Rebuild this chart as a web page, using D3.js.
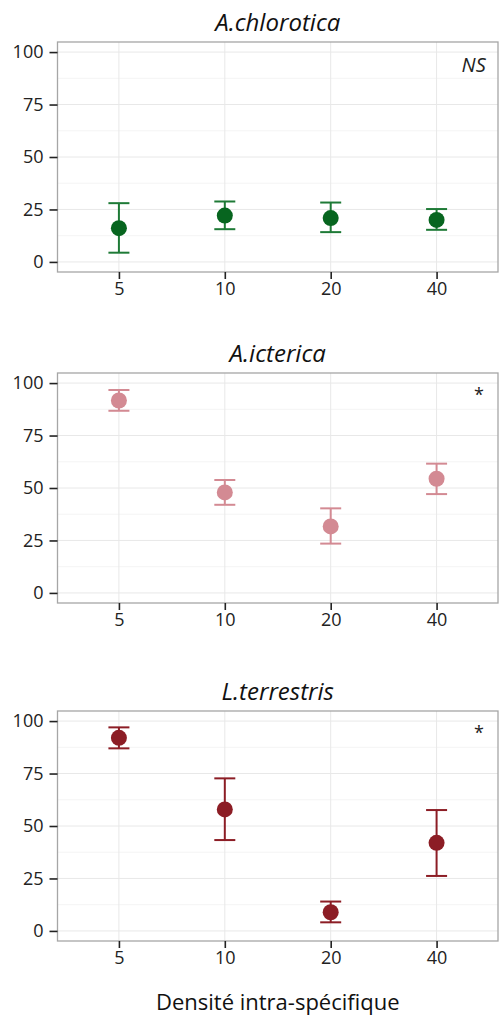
<!DOCTYPE html>
<html>
<head>
<meta charset="utf-8">
<script src="https://cdn.jsdelivr.net/npm/d3@7"></script>
<style>
  html, body { margin: 0; padding: 0; background: #fff; }
  svg { display: block; font-family: "Open Sans", sans-serif; }
</style>
</head>
<body>
<svg id="chart" width="501" height="1016"></svg>
<script>
// Density levels (x categories)
const densities = ["5", "10", "20", "40"];
const yTicks = [0, 25, 50, 75, 100];

// Species panels
const species = ["A.chlorotica", "A.icterica", "L.terrestris"];
const signif = ["NS", "*", "*"];
const colors = ["#07651f", "#d38a93", "#8c1d25"];
const barColors = ["#1e7a36", "#d38a93", "#8c1d25"];

// Mean and error bounds per density, one array per species
const chloroticaMean = [16.1, 22.1, 20.9, 20.0];
const chloroticaLow  = [4.4, 15.6, 14.2, 15.3];
const chloroticaHigh = [28.0, 28.8, 28.3, 25.2];

const ictericaMean = [91.7, 47.9, 31.7, 54.4];
const ictericaLow  = [86.8, 42.0, 23.5, 47.1];
const ictericaHigh = [96.7, 53.8, 40.3, 61.6];

const terrestrisMean = [92.0, 57.9, 8.9, 42.0];
const terrestrisLow  = [87.0, 43.3, 4.1, 26.2];
const terrestrisHigh = [97.0, 72.7, 14.0, 57.6];

const means = [chloroticaMean, ictericaMean, terrestrisMean];
const lows = [chloroticaLow, ictericaLow, terrestrisLow];
const highs = [chloroticaHigh, ictericaHigh, terrestrisHigh];

const svg = d3.select("#chart");

const left = 57.5, right = 498;
const panelTops = [42, 373, 711];
const panelH = 230;

const x = d3.scalePoint().domain(densities).range([left, right]).padding(0.58);
const step = x.step();

panelTops.forEach((top, i) => {
  const bottom = top + panelH;
  const y = d3.scaleLinear().domain([-4.8, 104.8]).range([bottom, top]);
  const g = svg.append("g");

  // Title
  g.append("text")
    .attr("x", (left + right) / 2)
    .attr("y", top - 11)
    .attr("text-anchor", "middle")
    .attr("font-style", "italic")
    .attr("font-size", 24)
    .attr("fill", "#111")
    .text(species[i]);

  // Minor grid
  const minor = [12.5, 37.5, 62.5, 87.5];
  g.selectAll(".minor").data(minor).join("line")
    .attr("x1", left).attr("x2", right)
    .attr("y1", d => y(d)).attr("y2", d => y(d))
    .attr("stroke", "#f4f4f4").attr("stroke-width", 1);

  // Major grid
  g.selectAll(".hmaj").data(yTicks).join("line")
    .attr("x1", left).attr("x2", right)
    .attr("y1", d => y(d)).attr("y2", d => y(d))
    .attr("stroke", "#e8e8e8").attr("stroke-width", 1);
  g.selectAll(".vmaj").data(densities).join("line")
    .attr("x1", d => x(d)).attr("x2", d => x(d))
    .attr("y1", top).attr("y2", bottom)
    .attr("stroke", "#e8e8e8").attr("stroke-width", 1);

  // Panel border
  g.append("rect")
    .attr("x", left).attr("y", top)
    .attr("width", right - left).attr("height", panelH)
    .attr("fill", "none").attr("stroke", "#a6a6a6").attr("stroke-width", 1.3);

  // Y axis
  const yAxis = g.append("g")
    .attr("transform", `translate(${left},0)`)
    .call(d3.axisLeft(y).tickValues(yTicks).tickSize(8).tickPadding(6));
  yAxis.select(".domain").remove();
  yAxis.selectAll("line").attr("stroke", "#222").attr("stroke-width", 1.6);
  yAxis.selectAll("text").attr("font-size", 18).attr("fill", "#222")
    .attr("font-family", "Open Sans, sans-serif");

  // X axis
  const xAxis = g.append("g")
    .attr("transform", `translate(0,${bottom})`)
    .call(d3.axisBottom(x).tickSize(7).tickPadding(3));
  xAxis.select(".domain").remove();
  xAxis.selectAll("line").attr("stroke", "#222").attr("stroke-width", 1.6);
  xAxis.selectAll("text").attr("font-size", 18).attr("fill", "#222")
    .attr("font-family", "Open Sans, sans-serif");

  const rows = densities.map((d, j) => ({ d, m: means[i][j], lo: lows[i][j], hi: highs[i][j] }));

  // Error bars
  const eb = g.selectAll(".eb").data(rows).join("g");
  eb.append("line")
    .attr("x1", r => x(r.d)).attr("x2", r => x(r.d))
    .attr("y1", r => y(r.lo)).attr("y2", r => y(r.hi))
    .attr("stroke", barColors[i]).attr("stroke-width", 2);
  eb.append("line")
    .attr("x1", r => x(r.d) - 10.5).attr("x2", r => x(r.d) + 10.5)
    .attr("y1", r => y(r.hi)).attr("y2", r => y(r.hi))
    .attr("stroke", barColors[i]).attr("stroke-width", 2);
  eb.append("line")
    .attr("x1", r => x(r.d) - 10.5).attr("x2", r => x(r.d) + 10.5)
    .attr("y1", r => y(r.lo)).attr("y2", r => y(r.lo))
    .attr("stroke", barColors[i]).attr("stroke-width", 2);

  // Means
  g.selectAll(".pt").data(rows).join("circle")
    .attr("cx", r => x(r.d)).attr("cy", r => y(r.m))
    .attr("r", 8).attr("fill", colors[i]);

  // Significance label
  const isNS = signif[i] === "NS";
  g.append("text")
    .attr("x", isNS ? x("40") + 0.35 * step : x("40") + 0.4 * step)
    .attr("y", y(isNS ? 94 : 95))
    .attr("text-anchor", "middle")
    .attr("dominant-baseline", "central")
    .attr("font-style", isNS ? "italic" : "normal")
    .attr("font-size", isNS ? 20 : 18)
    .attr("fill", "#222")
    .text(signif[i]);
});

// X axis title
svg.append("text")
  .attr("x", (left + right) / 2)
  .attr("y", 1010)
  .attr("text-anchor", "middle")
  .attr("font-size", 22)
  .attr("fill", "#111")
  .text("Densité intra-spécifique");
</script>
</body>
</html>
